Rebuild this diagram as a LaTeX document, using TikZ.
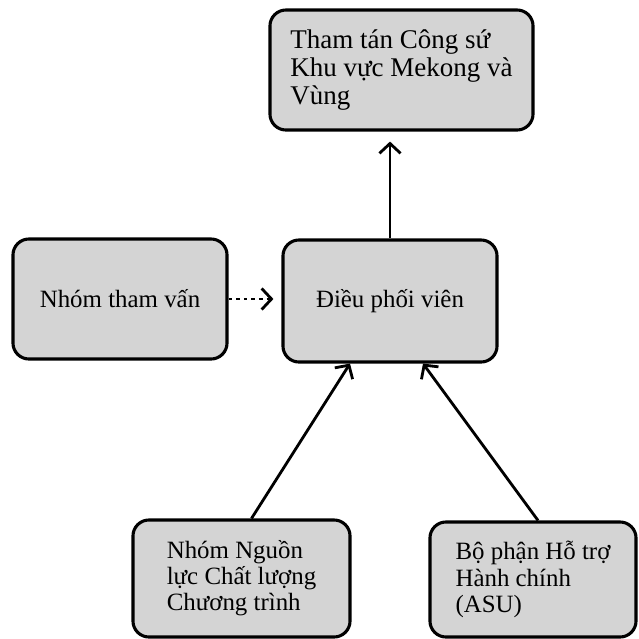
\documentclass[tikz,border=0pt]{standalone}
\usepackage{fontspec}
\setmainfont{Liberation Serif}
\usetikzlibrary{arrows.meta,calc}

\begin{document}
\begin{tikzpicture}[x=0.025cm,y=-0.025cm,
  box/.style={draw,line width=2.2pt,rounded corners=0.4cm,fill=black!17,align=left,inner sep=0pt,font=\fontsize{17.7}{18.6}\selectfont},
  arr/.style={line width=2pt,-{Straight Barb[length=7pt,width=15pt]}}]
  \useasboundingbox (0,0) rectangle (639,639);

  \node[box,minimum width=6.575cm,minimum height=3cm,font=\fontsize{19.2}{19.6}\selectfont] (TopNode) at (401.5,70) {Tham tán Công sứ\\Khu vực Mekong và\\Vùng};
  \node[box,minimum width=5.35cm,minimum height=3cm] (GroupNode) at (120,299) {Nhóm tham vấn};
  \node[box,minimum width=5.35cm,minimum height=3.05cm] (CoordNode) at (390,301) {Điều phối viên};
  \node[box,minimum width=5.425cm,minimum height=2.925cm] (QualityNode) at (241.5,578.5) {Nhóm Nguồn\\lực Chất lượng\\Chương trình};
  \node[box,minimum width=5.15cm,minimum height=2.875cm] (AdminNode) at (533,579.5) {Bộ phận Hỗ trợ\\Hành chính\\(ASU)};

  \draw[arr] (CoordNode.north) -- ($(CoordNode.north |- TopNode.south)+(0,10)$);
  \draw[arr,dash pattern=on 2.6pt off 2.8pt,shorten >=0.2cm] (GroupNode.east) -- (GroupNode.east -| CoordNode.west);
  \draw[arr] ($(QualityNode.north)+(10,0)$) -- ($(CoordNode.south)+(-40,0)$);
  \draw[arr] ($(AdminNode.north)+(5,0)$) -- ($(CoordNode.south)+(33,0)$);

\end{tikzpicture}
\end{document}
